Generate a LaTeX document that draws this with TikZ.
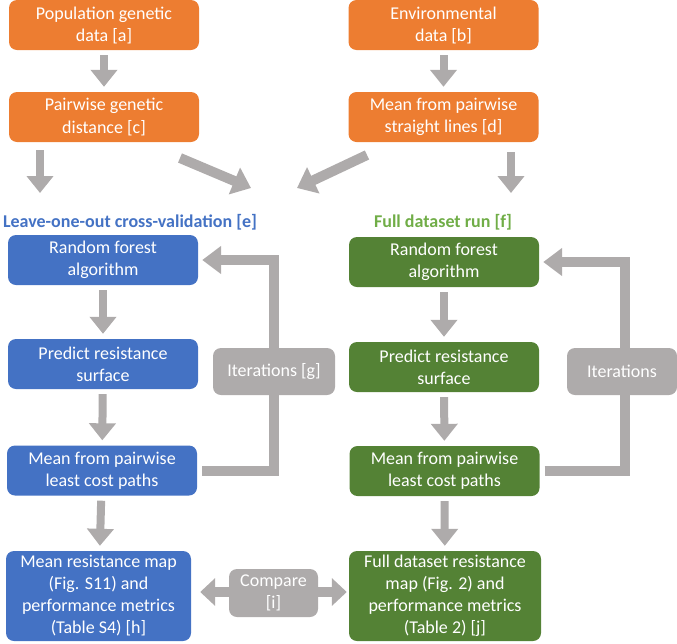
\documentclass[tikz,border=0pt]{standalone}
\usepackage{fontspec}
\setmainfont{Carlito}
\usetikzlibrary{arrows.meta}
\definecolor{corange}{HTML}{ED7D31}
\definecolor{cblue}{HTML}{4472C4}
\definecolor{cgreen}{HTML}{548235}
\definecolor{cgray}{HTML}{AEABAB}
\definecolor{ctgreen}{HTML}{70AD47}
\tikzset{
  box/.style={rounded corners=8pt, text=white, align=center, inner sep=0pt,
    font=\fontsize{18}{22}\selectfont, minimum width=190pt, minimum height=50pt},
  obox/.style={box, fill=corange},
  bbox/.style={box, fill=cblue},
  gbox/.style={box, fill=cgreen},
  graybox/.style={box, fill=cgray},
  title/.style={font=\fontsize{18}{22}\selectfont\bfseries, anchor=base, inner sep=0pt},
  varrow/.style={draw=cgray, line width=8pt, -{Triangle[width=26pt,length=17pt]}, shorten <=5pt, shorten >=5pt},
  darrow/.style={draw=cgray, line width=10pt, -{Triangle[width=28pt,length=18pt]}},
  looparrow/.style={draw=cgray, line width=10pt, miter limit=10, line join=miter, -{Triangle[width=27pt,length=19pt]}, shorten <=5pt, shorten >=4pt},
  cmparrow/.style={draw=cgray, line width=10pt, {Triangle[width=27pt,length=15pt]}-{Triangle[width=27pt,length=15pt]}, shorten <=9pt, shorten >=2pt},
}
\begin{document}
\begin{tikzpicture}[x=1pt,y=-1pt]
\useasboundingbox (0,0) rectangle (677,643);
% top orange boxes
\node[obox] (pop) at (104,25) {Population genetic\\data [a]};
\node[obox] (pgd) at (104,117) {Pairwise genetic\\distance [c]};
\node[obox] (env) at (443.5,25) {Environmental\\data [b]};
\node[obox] (msl) at (443.5,117) {Mean from pairwise\\straight lines [d]};
\draw[varrow] (pop) -- (pgd);
\draw[varrow] (env) -- (msl);
% arrows to the two runs
\coordinate (eL) at (40,193);
\coordinate (eR) at (511,193);
\coordinate (dL0) at (180,158);
\coordinate (dL1) at (251,188);
\coordinate (dR0) at (367,155);
\coordinate (dR1) at (297,188);
\draw[varrow, shorten <=8pt, shorten >=0pt] (pgd.south -| eL) -- (eL);
\draw[varrow, shorten <=10pt, shorten >=0pt] (msl.south -| eR) -- (eR);
\draw[darrow] (dL0) -- (dL1);
\draw[darrow] (dR0) -- (dR1);
% titles
\node[title, text=cblue] (te) at (130,227) {Leave-one-out cross-validation [e]};
\node[title, text=ctgreen] (tf) at (443,227) {Full dataset run [f]};
% blue column
\node[bbox] (brf) at (103,260) {Random forest\\algorithm};
\node[bbox] (bpr) at (103,364) {Predict resistance\\surface};
\node[bbox] (bml) at (102,470.5) {Mean from pairwise\\least cost paths};
\node[bbox, minimum width=185pt, minimum height=90pt] (bmap) at (98.5,596) {Mean resistance map\\(Fig. S11) and\\performance metrics\\(Table S4) [h]};
\draw[varrow] (brf) -- (bpr);
\draw[varrow] (bpr) -- (bml);
\draw[varrow] (bml) -- (bmap);
% green column
\node[gbox] (grf) at (444,262) {Random forest\\algorithm};
\node[gbox] (gpr) at (444,367) {Predict resistance\\surface};
\node[gbox] (gml) at (444.5,471) {Mean from pairwise\\least cost paths};
\node[gbox, minimum width=192pt, minimum height=90pt] (gmap) at (445,596) {Full dataset resistance\\map (Fig. 2) and\\performance metrics\\(Table 2) [j]};
\draw[varrow] (grf) -- (gpr);
\draw[varrow] (gpr) -- (gml);
\draw[varrow] (gml) -- (gmap);
% loops
\coordinate (bl) at (274,0);
\coordinate (gl) at (624.5,0);
\draw[looparrow] (bml.east) -- (bml.east -| bl) -- (brf.east -| bl) -- (brf.east);
\draw[looparrow] (gml.east) -- (gml.east -| gl) -- (grf.east -| gl) -- (grf.east);
\node[graybox, minimum width=122pt, minimum height=47pt] (itg) at (274,371.5) {Iterations [g]};
\node[graybox, minimum width=110pt, minimum height=47pt] (itf) at (622,371.5) {Iterations};
% compare
\coordinate (cmpy) at (0,592);
\draw[cmparrow] (bmap.east |- cmpy) -- (gmap.west |- cmpy);
\node[graybox, minimum width=89pt, minimum height=48pt] (cmp) at (273.5,593) {Compare\\{[i]}};
\end{tikzpicture}
\end{document}
